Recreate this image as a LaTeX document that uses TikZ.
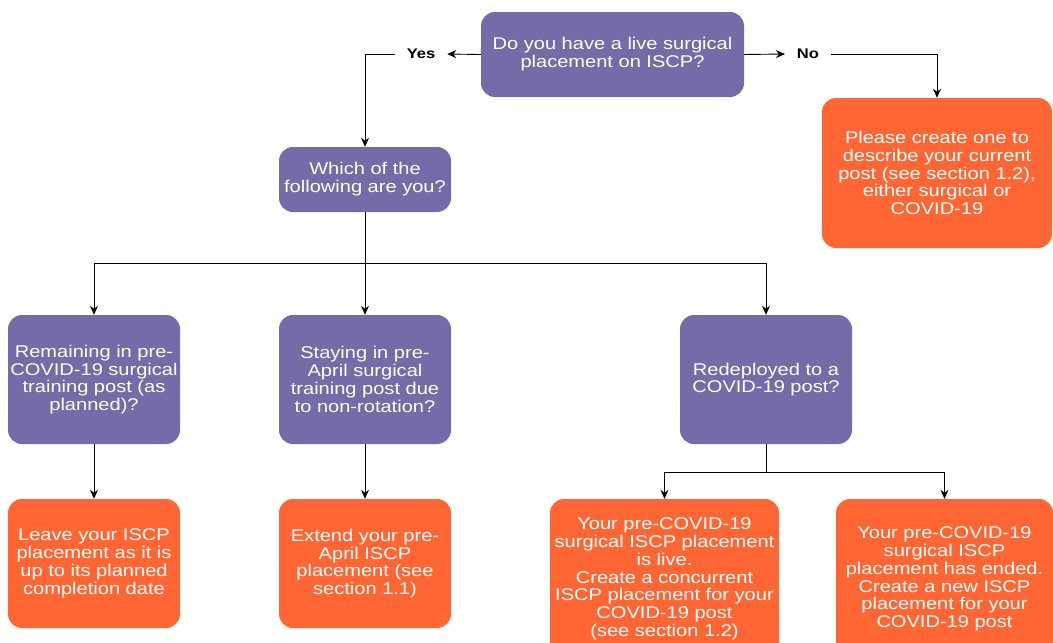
\documentclass[tikz,border=0pt]{standalone}
\usepackage{fontspec}
\setmainfont{Liberation Sans}[FakeStretch=1.18]
\usetikzlibrary{arrows.meta}
\definecolor{pur}{HTML}{736CA8}
\definecolor{org}{HTML}{FF6633}
\begin{document}
\begin{tikzpicture}[x=1pt,y=-1pt,
  box/.style={rounded corners=14pt,text=white,align=center,font=\fontsize{17}{17.8}\selectfont,inner sep=2pt},
  pbox/.style={box,fill=pur},
  obox/.style={box,fill=org},
  lab/.style={font=\bfseries\fontsize{14}{16}\selectfont,text=black,inner sep=1pt},
  arr/.style={-{Stealth[length=9pt,width=8pt]},line width=0.9pt},
  ln/.style={line width=0.9pt}]
\useasboundingbox (0,0) rectangle (1053,643);
\node[pbox,minimum width=263pt,minimum height=85pt] (q1) at (612.5,54.5) {Do you have a live surgical\\placement on ISCP?};
\node[lab,outer sep=11pt] (yes) at (421,54) {Yes};
\node[lab,outer sep=11pt] (no) at (808,54) {No};
\node[obox,minimum width=230pt,minimum height=150pt] (create) at (937,173) {Please create one to\\describe your current\\post (see section 1.2),\\either surgical or\\COVID-19};
\node[pbox,minimum width=172pt,minimum height=65pt] (which) at (365,179.5) {Which of the\\following are you?};
\node[pbox,minimum width=172pt,minimum height=129pt] (rem) at (94,379.5) {Remaining in pre-\\COVID-19 surgical\\training post (as\\planned)?};
\node[pbox,minimum width=172pt,minimum height=129pt] (stay) at (365,379.5) {Staying in pre-\\April surgical\\training post due\\to non-rotation?};
\node[pbox,minimum width=172pt,minimum height=129pt] (redep) at (766,379.5) {Redeployed to a\\COVID-19 post?};
\node[obox,minimum width=172pt,minimum height=129pt] (leave) at (94,563.5) {Leave your ISCP\\placement as it is\\up to its planned\\completion date};
\node[obox,minimum width=172pt,minimum height=129pt] (extend) at (365,563.5) {Extend your pre-\\April ISCP\\placement (see\\section 1.1)};
\node[obox,minimum width=229pt,minimum height=160pt] (live) at (664.5,579) {Your pre-COVID-19\\surgical ISCP placement\\is live.\\Create a concurrent\\ISCP placement for your\\COVID-19 post\\(see section 1.2)};
\node[obox,minimum width=217pt,minimum height=160pt] (ended) at (944.5,579) {Your pre-COVID-19\\surgical ISCP\\placement has ended.\\Create a new ISCP\\placement for your\\COVID-19 post};
\draw[arr] (q1.west) -- (yes.east);
\draw[arr] (q1.east) -- (no.west);
\draw[arr] (yes.west) -| (which.north);
\draw[arr] (no.east) -| (create.north);
\coordinate (hb) at (365,263);
\draw[ln] (which.south) -- (hb);
\draw[arr] (hb) -| (rem.north);
\draw[arr] (hb) -- (stay.north);
\draw[arr] (hb) -| (redep.north);
\draw[arr] (rem.south) -- (leave.north);
\draw[arr] (stay.south) -- (extend.north);
\coordinate (hr) at (766,472);
\draw[ln] (redep.south) -- (hr);
\draw[arr] (hr) -| (live.north);
\draw[arr] (hr) -| (ended.north);
\end{tikzpicture}
\end{document}
